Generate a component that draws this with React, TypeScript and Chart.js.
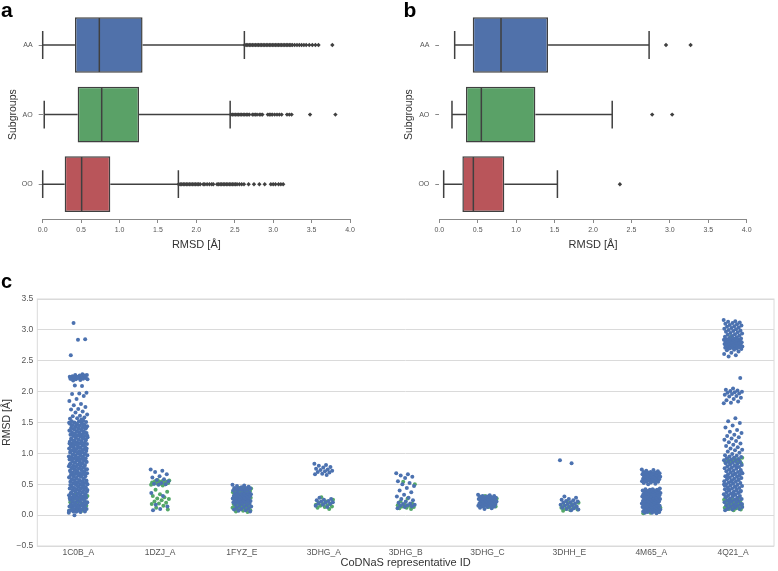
import React, { useEffect, useRef } from "react";
import { Chart, registerables } from "chart.js";
Chart.register(...registerables);

const FONT = "'Liberation Sans', Arial, Helvetica, sans-serif";
const EDGE = "#404040";

// ---------- panels a / b : box plots ----------
const subgroups = ["AA", "AO", "OO"];
const boxFill = ["#5071aa", "#5aa167", "#b9555a"];

const aLow = [0.0, 0.02, 0.0];
const aQ1 = [0.42, 0.455, 0.286];
const aMed = [0.737, 0.768, 0.507];
const aQ3 = [1.3, 1.254, 0.88];
const aHigh = [2.625, 2.44, 1.766];
const aOutAA = [2.63, 2.65, 2.67, 2.69, 2.71, 2.73, 2.75, 2.77, 2.79, 2.81, 2.83, 2.85, 2.87, 2.89, 2.91, 2.93, 2.95, 2.97, 2.99, 3.01, 3.03, 3.05, 3.07, 3.09, 3.11, 3.13, 3.15, 3.17, 3.19, 3.21, 3.23, 3.25, 3.28, 3.31, 3.34, 3.37, 3.4, 3.43, 3.47, 3.51, 3.55, 3.59, 3.77];
const aOutAO = [2.45, 2.47, 2.49, 2.51, 2.53, 2.55, 2.57, 2.59, 2.61, 2.63, 2.65, 2.67, 2.69, 2.73, 2.75, 2.77, 2.79, 2.82, 2.84, 2.86, 2.93, 2.95, 2.97, 2.99, 3.02, 3.05, 3.08, 3.11, 3.18, 3.21, 3.24, 3.48, 3.81];
const aOutOO = [1.77, 1.79, 1.81, 1.83, 1.85, 1.87, 1.89, 1.91, 1.93, 1.95, 1.97, 1.99, 2.01, 2.03, 2.05, 2.09, 2.11, 2.14, 2.17, 2.2, 2.22, 2.27, 2.29, 2.31, 2.33, 2.35, 2.37, 2.39, 2.41, 2.43, 2.45, 2.47, 2.49, 2.51, 2.53, 2.56, 2.59, 2.62, 2.68, 2.75, 2.82, 2.89, 2.97, 3.0, 3.03, 3.07, 3.1, 3.13];

const bLow = [0.2, 0.165, 0.057];
const bQ1 = [0.435, 0.347, 0.3];
const bMed = [0.803, 0.547, 0.443];
const bQ3 = [1.415, 1.25, 0.846];
const bHigh = [2.73, 2.25, 1.537];
const bOutAA = [2.95, 3.27];
const bOutAO = [2.77, 3.03];
const bOutOO = [2.35];

// ---------- panel c : strip plot ----------
const stripIds = ["1C0B_A", "1DZJ_A", "1FYZ_E", "3DHG_A", "3DHG_B", "3DHG_C", "3DHH_E", "4M65_A", "4Q21_A"];
const stripColors = ["#4C72B0", "#55A868"];

const blue1C0B = [
  0.04, 0.05, 0.06, 0.06, 0.07, 0.08, 0.09, 0.09, 0.1, 0.11, 0.12, 0.13, 0.13, 0.14, 0.15, 0.16, 0.17, 0.17, 0.18, 0.19,
  0.2, 0.21, 0.22, 0.22, 0.23, 0.24, 0.25, 0.26, 0.27, 0.28, 0.28, 0.29, 0.3, 0.31, 0.32, 0.33, 0.33, 0.34, 0.35, 0.36,
  0.37, 0.38, 0.38, 0.39, 0.4, 0.41, 0.42, 0.43, 0.44, 0.44, 0.45, 0.46, 0.47, 0.48, 0.49, 0.5, 0.5, 0.51, 0.52, 0.53,
  0.54, 0.55, 0.56, 0.56, 0.57, 0.58, 0.59, 0.6, 0.61, 0.62, 0.62, 0.63, 0.64, 0.65, 0.66, 0.67, 0.68, 0.68, 0.69, 0.7,
  0.71, 0.72, 0.73, 0.74, 0.74, 0.75, 0.76, 0.77, 0.78, 0.79, 0.8, 0.8, 0.81, 0.82, 0.83, 0.84, 0.85, 0.86, 0.86, 0.87,
  0.88, 0.89, 0.9, 0.91, 0.92, 0.92, 0.93, 0.94, 0.95, 0.96, 0.97, 0.98, 0.98, 0.99, 1.0, 1.01, 1.02, 1.03, 1.04, 1.04,
  1.05, 1.06, 1.07, 1.08, 1.09, 1.1, 1.1, 1.11, 1.12, 1.13, 1.14, 1.15, 1.16, 1.16, 1.17, 1.18, 1.19, 1.2, 1.21, 1.22,
  1.22, 1.23, 1.24, 1.25, 1.26, 1.27, 1.28, 1.28, 1.29, 1.3, 1.31, 1.32, 1.33, 1.34, 1.34, 1.35, 1.36, 1.37, 1.38, 1.39,
  1.4, 1.4, 1.41, 1.42, 1.43, 1.44, 1.45, 1.46, 1.46, 1.47, 1.48, 1.49, 1.5, 1.51, 1.52, 1.52, 1.53,
  0.055, 0.071, 0.087, 0.103, 0.119, 0.135, 0.151, 0.167, 0.183, 0.199, 0.215, 0.231, 0.247, 0.263, 0.279, 0.295, 0.311, 0.327, 0.343, 0.359,
  0.375, 0.391, 0.407, 0.423, 0.439, 0.455, 0.471, 0.487, 0.503, 0.519, 0.535, 0.551, 0.567, 0.583, 0.599, 0.615, 0.631, 0.647, 0.663, 0.679,
  0.695, 0.711, 0.727, 0.743, 0.759, 0.775, 0.791, 0.807, 0.823, 0.839, 0.855, 0.871, 0.887, 0.903, 0.919, 0.935, 0.951, 0.967, 0.983, 0.999,
  1.015, 1.031, 1.047, 1.063, 1.079, 1.095, 1.111, 1.127, 1.143, 1.159, 1.175, 1.191, 1.207, 1.223, 1.239, 1.255, 1.271, 1.287, 1.303, 1.319,
  1.335, 1.351, 1.367, 1.383, 1.399, 1.415, 1.431, 1.447, 1.463, 1.479, 1.495, 1.511,
  3.11, 2.85, 2.84, 2.59, 2.28, 2.27, 2.27, 2.26, 2.25, 2.25, 2.24, 2.24, 2.23, 2.23, 2.22, 2.22, 2.21, 2.21, 2.2, 2.2,
  2.19, 2.18, 2.26, 2.23, 2.21, 2.09, 2.1, 1.98, 1.97, 1.96, 1.93, 1.88, 1.85, 1.8, 1.78, 1.75, 1.72, 1.71, 1.68, 1.66,
  1.63, 1.61, 1.6, 1.58, 1.57, 1.56, 1.55, 0.0,
];
const green1C0B = [0.33, 0.31, 0.27, 0.25, 0.23, 0.22, 0.21, 0.19, 0.17, 0.15, 0.13, 0.12, 0.1, 0.09, 0.07, 0.06];

const blue1DZJ = [0.74, 0.72, 0.7, 0.66, 0.63, 0.61, 0.58, 0.57, 0.55, 0.52, 0.51, 0.5, 0.49, 0.36, 0.31, 0.17, 0.14, 0.1, 0.08];
const green1DZJ = [0.57, 0.56, 0.55, 0.55, 0.54, 0.54, 0.53, 0.53, 0.52, 0.52, 0.51, 0.51, 0.5, 0.5, 0.49, 0.48, 0.41, 0.38, 0.34, 0.31, 0.29, 0.27, 0.26, 0.24, 0.22, 0.2, 0.19, 0.18, 0.15, 0.12, 0.09];

const blue1FYZ = [0.49, 0.48, 0.47, 0.46, 0.45, 0.44, 0.44, 0.43, 0.43, 0.42, 0.42, 0.41, 0.41, 0.4, 0.39, 0.38, 0.37, 0.36, 0.35, 0.35, 0.34, 0.34, 0.33, 0.33, 0.32, 0.32, 0.31, 0.31, 0.3, 0.3, 0.29, 0.29, 0.28, 0.28, 0.27, 0.27, 0.26, 0.26, 0.25, 0.25, 0.24, 0.24, 0.23, 0.23, 0.22, 0.22, 0.21, 0.21, 0.2, 0.2, 0.19, 0.18, 0.17, 0.16, 0.15, 0.14, 0.13, 0.12, 0.11, 0.1, 0.09, 0.08, 0.07, 0.06];
const green1FYZ = [0.44, 0.43, 0.43, 0.42, 0.42, 0.41, 0.41, 0.4, 0.4, 0.39, 0.39, 0.38, 0.38, 0.37, 0.37, 0.36, 0.36, 0.35, 0.35, 0.34, 0.33, 0.31, 0.28, 0.25, 0.22, 0.2, 0.19, 0.18, 0.17, 0.16, 0.15, 0.14, 0.14, 0.13, 0.13, 0.12, 0.12, 0.11, 0.11, 0.1, 0.1, 0.09, 0.09, 0.08, 0.07, 0.06, 0.05];

const blue3DHGA = [0.83, 0.81, 0.8, 0.78, 0.77, 0.75, 0.74, 0.73, 0.72, 0.71, 0.7, 0.69, 0.67, 0.66, 0.65, 0.28, 0.26, 0.25, 0.24, 0.23, 0.22, 0.21, 0.2, 0.19, 0.18, 0.17, 0.15, 0.13];
const green3DHGA = [0.29, 0.25, 0.22, 0.2, 0.19, 0.18, 0.17, 0.16, 0.15, 0.14, 0.13, 0.12, 0.1];

const blue3DHGB = [0.68, 0.66, 0.64, 0.62, 0.6, 0.55, 0.52, 0.5, 0.47, 0.44, 0.4, 0.37, 0.33, 0.3, 0.28, 0.26, 0.24, 0.22, 0.2, 0.19, 0.18, 0.17, 0.16, 0.15, 0.14, 0.13, 0.11];
const green3DHGB = [0.54, 0.5, 0.27, 0.22, 0.19, 0.17, 0.16, 0.15, 0.14, 0.13, 0.12, 0.11, 0.1];

const blue3DHGC = [0.33, 0.32, 0.31, 0.31, 0.3, 0.3, 0.29, 0.29, 0.28, 0.28, 0.27, 0.27, 0.26, 0.26, 0.25, 0.25, 0.24, 0.24, 0.23, 0.23, 0.22, 0.22, 0.21, 0.21, 0.2, 0.2, 0.19, 0.19, 0.18, 0.18, 0.17, 0.17, 0.16, 0.16, 0.15, 0.15, 0.14, 0.14, 0.13, 0.12, 0.11, 0.1];
const green3DHGC = [0.31, 0.27, 0.24, 0.21, 0.19, 0.18, 0.17, 0.16, 0.15, 0.14, 0.13];

const blue3DHH = [0.89, 0.84, 0.3, 0.28, 0.26, 0.25, 0.24, 0.23, 0.22, 0.21, 0.2, 0.19, 0.18, 0.17, 0.16, 0.15, 0.14, 0.13, 0.12, 0.11, 0.1, 0.09, 0.08];
const green3DHH = [0.22, 0.2, 0.18, 0.16, 0.14, 0.13, 0.12, 0.11, 0.1, 0.09, 0.08, 0.07];

const blue4M65 = [
  0.74, 0.73, 0.72, 0.71, 0.7, 0.7, 0.69, 0.69, 0.68, 0.68, 0.67, 0.67, 0.66, 0.66, 0.65, 0.65, 0.64, 0.64, 0.63, 0.63, 0.62, 0.62, 0.61, 0.61, 0.6, 0.6, 0.59, 0.59, 0.58, 0.58, 0.57, 0.57, 0.56, 0.56, 0.55, 0.55, 0.54, 0.54, 0.53, 0.52, 0.51, 0.5,
  0.43, 0.42, 0.42, 0.41, 0.41, 0.4, 0.4, 0.39, 0.39, 0.38, 0.38, 0.37, 0.37, 0.36, 0.36, 0.35, 0.35, 0.34, 0.34, 0.33, 0.33, 0.32, 0.32, 0.31, 0.31, 0.3, 0.3, 0.29, 0.29, 0.28, 0.28, 0.27, 0.27, 0.26, 0.26, 0.25, 0.25, 0.24, 0.24, 0.23, 0.23, 0.22, 0.22, 0.21, 0.21, 0.2, 0.2, 0.19, 0.19, 0.18, 0.18, 0.17, 0.17, 0.16, 0.16, 0.15, 0.15, 0.14, 0.14, 0.13, 0.13, 0.12, 0.12, 0.11, 0.11, 0.1, 0.1, 0.09, 0.09, 0.08, 0.08, 0.07, 0.07, 0.06, 0.06, 0.05, 0.05, 0.04, 0.04, 0.03,
];
const green4M65 = [0.21, 0.12, 0.08, 0.06, 0.05, 0.04, 0.03];

const blue4Q21 = [
  3.16, 3.14, 3.13, 3.12, 3.11, 3.1, 3.09, 3.08, 3.07, 3.06, 3.05, 3.04, 3.03, 3.02, 3.01, 3.0, 2.99, 2.98, 2.97, 2.96, 2.95, 2.94, 2.93, 2.92, 2.91, 2.9, 2.89, 2.88, 2.87, 2.86, 2.86, 2.85, 2.85, 2.84, 2.84, 2.83, 2.83, 2.82, 2.82, 2.81, 2.81, 2.8, 2.8, 2.79, 2.79, 2.78, 2.78, 2.77, 2.77, 2.76, 2.76, 2.75, 2.75, 2.74, 2.74, 2.73, 2.73, 2.72, 2.72, 2.71, 2.71, 2.7, 2.7, 2.69, 2.68, 2.67, 2.65, 2.63, 2.61, 2.59, 2.57,
  2.22, 2.05, 2.03, 2.02, 2.01, 2.0, 1.99, 1.98, 1.97, 1.96, 1.95, 1.93, 1.92, 1.9, 1.88, 1.86, 1.84, 1.82, 1.81,
  1.57, 1.52, 1.49, 1.45, 1.42, 1.38, 1.35, 1.33, 1.3, 1.28, 1.26, 1.24, 1.22, 1.2, 1.18, 1.16, 1.14, 1.12, 1.1, 1.08, 1.06, 1.05, 1.03, 1.01, 0.99, 0.97, 0.96,
  0.95, 0.94, 0.93, 0.92, 0.91, 0.9, 0.89, 0.88, 0.87, 0.86, 0.85, 0.84, 0.83, 0.82, 0.81, 0.8, 0.79, 0.78, 0.77, 0.76, 0.75, 0.74, 0.73, 0.72, 0.71, 0.7, 0.69, 0.68, 0.67, 0.66, 0.65, 0.64, 0.63, 0.62, 0.61, 0.6, 0.59, 0.58, 0.57, 0.56, 0.55, 0.54, 0.53, 0.52, 0.51, 0.5, 0.49, 0.48, 0.47, 0.46, 0.45, 0.44, 0.43, 0.42, 0.41, 0.4, 0.39, 0.38, 0.37, 0.36, 0.35, 0.34, 0.33, 0.32, 0.31, 0.3, 0.29, 0.28, 0.27, 0.26, 0.25, 0.24, 0.23, 0.22, 0.21, 0.2, 0.19, 0.18, 0.17, 0.16, 0.15, 0.14, 0.13, 0.12, 0.11, 0.1, 0.09, 0.08,
  0.78, 0.74, 0.7, 0.66, 0.62, 0.58, 0.54, 0.5, 0.46, 0.42, 0.38, 0.34, 0.3, 0.26, 0.22, 0.18, 0.14, 0.1, 0.64, 0.56, 0.48, 0.4,
];
const green4Q21 = [2.89, 0.93, 0.91, 0.9, 0.89, 0.88, 0.87, 0.86, 0.85, 0.84, 0.33, 0.3, 0.28, 0.26, 0.25, 0.24, 0.23, 0.22, 0.21, 0.2, 0.19, 0.18, 0.17, 0.16, 0.15, 0.14, 0.13, 0.12, 0.11, 0.1, 0.09, 0.08];

const stripBlue = [blue1C0B, blue1DZJ, blue1FYZ, blue3DHGA, blue3DHGB, blue3DHGC, blue3DHH, blue4M65, blue4Q21];
const stripGreen = [green1C0B, green1DZJ, green1FYZ, green3DHGA, green3DHGB, green3DHGC, green3DHH, green4M65, green4Q21];

// ---------- helpers ----------
function makeBoxChart(
  canvas: HTMLCanvasElement,
  low: number[], q1: number[], med: number[], q3: number[], high: number[],
  outliers: number[][],
  geom: { left: number; right: number; yTitlePad: number }
) {
  const barData = subgroups.map((_, i) => [q1[i], q3[i]]);
  const outPts = outliers.flatMap((arr, i) => arr.map((v) => ({ x: v, y: subgroups[i] })));
  const whiskers = {
    id: "whiskers",
    afterDatasetsDraw(chart: any) {
      const xs = chart.scales.x;
      const ys = chart.scales.y;
      const meta = chart.getDatasetMeta(0);
      const ctx = chart.ctx;
      ctx.save();
      ctx.strokeStyle = EDGE;
      ctx.lineWidth = 1.5;
      subgroups.forEach((_, i) => {
        const bar = meta.data[i];
        const h = bar.getProps(["height"], true).height;
        const cy = ys.getPixelForValue(i);
        const xl = xs.getPixelForValue(low[i]);
        const x1 = xs.getPixelForValue(q1[i]);
        const xm = xs.getPixelForValue(med[i]);
        const x3 = xs.getPixelForValue(q3[i]);
        const xh = xs.getPixelForValue(high[i]);
        ctx.beginPath();
        ctx.moveTo(xl, cy); ctx.lineTo(x1, cy);
        ctx.moveTo(x3, cy); ctx.lineTo(xh, cy);
        ctx.moveTo(xl, cy - h / 4); ctx.lineTo(xl, cy + h / 4);
        ctx.moveTo(xh, cy - h / 4); ctx.lineTo(xh, cy + h / 4);
        ctx.moveTo(xm, cy - h / 2 + 0.75); ctx.lineTo(xm, cy + h / 2 - 0.75);
        ctx.stroke();
      });
      ctx.restore();
    },
  };
  return new Chart(canvas, {
    type: "bar",
    data: {
      labels: subgroups,
      datasets: [
        {
          type: "bar",
          data: barData as any,
          backgroundColor: boxFill,
          borderColor: EDGE,
          borderWidth: 1.5,
          borderSkipped: false,
          barPercentage: 0.8,
          categoryPercentage: 1,
        } as any,
        {
          type: "scatter",
          indexAxis: "y",
          data: outPts as any,
          pointStyle: "rectRot",
          pointRadius: 2.2,
          backgroundColor: EDGE,
          borderColor: EDGE,
          borderWidth: 0,
        } as any,
      ],
    },
    options: {
      indexAxis: "y",
      responsive: false,
      animation: false,
      events: [],
      layout: { padding: { top: 7.2, right: geom.right, left: 0, bottom: 0 } },
      plugins: { legend: { display: false }, tooltip: { enabled: false } },
      scales: {
        x: {
          type: "linear",
          min: 0,
          max: 4,
          ticks: {
            stepSize: 0.5,
            callback: (v: any) => Number(v).toFixed(1),
            font: { size: 7, family: FONT },
            color: "#555",
            padding: 3,
          },
          grid: { drawOnChartArea: false, drawTicks: true, tickLength: 4, color: "#888" },
          border: { display: true, color: "#888", width: 1 },
          title: {
            display: true,
            text: "RMSD [Å]",
            font: { size: 11, family: FONT, lineHeight: 1 },
            color: "#333",
            padding: { top: 0, bottom: 0 },
          },
          afterFit: (s: any) => { s.height = 31; },
        },
        y: {
          type: "category",
          offset: true,
          ticks: { font: { size: 7, family: FONT }, color: "#555", padding: 6 },
          grid: { offset: false, drawOnChartArea: false, drawTicks: true, tickLength: 4, color: "#888" },
          border: { display: false },
          title: {
            display: true,
            text: "Subgroups",
            font: { size: 10.5, family: FONT, lineHeight: 1 },
            color: "#333",
            padding: { top: geom.yTitlePad, bottom: 0 },
          },
          afterFit: (s: any) => { s.width = geom.left; },
        },
      },
    } as any,
    plugins: [whiskers],
  });
}

function jitter(k: number, phase: number) {
  return (((k * 0.6180339887 + phase) % 1) - 0.5) * 0.23;
}

function makeStripChart(canvas: HTMLCanvasElement) {
  const toPts = (groups: number[][], phase: number) =>
    groups.flatMap((vals, ci) => vals.map((v, k) => ({ x: ci + jitter(k, phase), y: v })));
  const frame = {
    id: "frame",
    afterDraw(chart: any) {
      const { left, top, right, bottom } = chart.chartArea;
      const ctx = chart.ctx;
      ctx.save();
      ctx.strokeStyle = "#dadada";
      ctx.lineWidth = 1;
      ctx.strokeRect(left, top, right - left, bottom - top);
      ctx.restore();
    },
  };
  return new Chart(canvas, {
    type: "scatter",
    data: {
      datasets: [
        { data: toPts(stripBlue, 0), backgroundColor: stripColors[0], borderWidth: 0, pointRadius: 2 },
        { data: toPts(stripGreen, 0.37), backgroundColor: stripColors[1], borderWidth: 0, pointRadius: 2 },
      ],
    },
    options: {
      responsive: false,
      animation: false,
      events: [],
      layout: { padding: { top: 49, right: 2, left: 0, bottom: 0 } },
      plugins: { legend: { display: false }, tooltip: { enabled: false } },
      scales: {
        x: {
          type: "linear",
          min: -0.5,
          max: 8.5,
          afterBuildTicks: (s: any) => { s.ticks = stripIds.map((_, i) => ({ value: i })); },
          ticks: {
            autoSkip: false,
            maxRotation: 0,
            callback: (v: any) => stripIds[Math.round(Number(v))] ?? "",
            font: { size: 8.5, family: FONT },
            color: "#555",
            padding: 2,
          },
          grid: { display: false, drawTicks: false },
          border: { display: false },
          title: {
            display: true,
            text: "CoDNaS representative ID",
            font: { size: 11, family: FONT, lineHeight: 1 },
            color: "#333",
            padding: { top: 0, bottom: 2.5 },
          },
          afterFit: (s: any) => { s.height = 25; },
        },
        y: {
          type: "linear",
          min: -0.5,
          max: 3.5,
          ticks: {
            stepSize: 0.5,
            callback: (v: any) => {
              const n = Number(v);
              return (n < 0 ? "\u2212" : "") + Math.abs(n).toFixed(1);
            },
            font: { size: 8.5, family: FONT },
            color: "#555",
            padding: 4,
          },
          grid: { color: "#dadada", drawTicks: false, lineWidth: 1 },
          border: { display: false },
          title: {
            display: true,
            text: "RMSD [Å]",
            font: { size: 10.5, family: FONT, lineHeight: 1 },
            color: "#333",
            padding: { top: 1.5, bottom: 0 },
          },
          afterFit: (s: any) => { s.width = 37.3; },
        },
      },
    } as any,
    plugins: [frame],
  });
}

export default function App() {
  const aRef = useRef<HTMLCanvasElement>(null);
  const bRef = useRef<HTMLCanvasElement>(null);
  const cRef = useRef<HTMLCanvasElement>(null);

  useEffect(() => {
    const charts: Chart[] = [];
    if (aRef.current)
      charts.push(makeBoxChart(aRef.current, aLow, aQ1, aMed, aQ3, aHigh, [aOutAA, aOutAO, aOutOO], { left: 42.7, right: 40, yTitlePad: 8 }));
    if (bRef.current)
      charts.push(makeBoxChart(bRef.current, bLow, bQ1, bMed, bQ3, bHigh, [bOutAA, bOutAO, bOutOO], { left: 49.3, right: 31.3, yTitlePad: 14 }));
    if (cRef.current) charts.push(makeStripChart(cRef.current));
    return () => charts.forEach((c) => c.destroy());
  }, []);

  const letter: React.CSSProperties = {
    position: "absolute",
    fontFamily: FONT,
    fontWeight: "bold",
    fontSize: 21,
    lineHeight: 1,
    color: "#000",
  };

  return (
    <div style={{ position: "absolute", left: 0, top: 0, width: 778, height: 571, background: "#fff", overflow: "hidden" }}>
      <canvas ref={aRef} width={390} height={250} style={{ position: "absolute", left: 0, top: 0 }} />
      <canvas ref={bRef} width={388} height={250} style={{ position: "absolute", left: 390, top: 0 }} />
      <canvas ref={cRef} width={778} height={321} style={{ position: "absolute", left: 0, top: 250 }} />
      <div style={{ ...letter, left: 1, top: -1 }}>a</div>
      <div style={{ ...letter, left: 403.5, top: -1 }}>b</div>
      <div style={{ ...letter, left: 1, top: 271, fontSize: 20 }}>c</div>
    </div>
  );
}
